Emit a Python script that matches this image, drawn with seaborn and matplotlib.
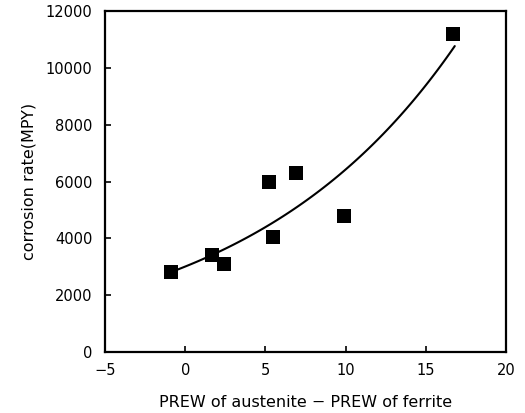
import numpy as np
import pandas as pd
import seaborn as sns
import matplotlib.pyplot as plt

sns.set_theme(style="white")
plt.rcParams["font.family"] = ["DejaVu Sans"]
plt.rcParams["text.color"] = "black"
plt.rcParams["axes.labelcolor"] = "black"
plt.rcParams["xtick.color"] = "black"
plt.rcParams["ytick.color"] = "black"

# datos
prew_diff = [-0.9, 1.7, 2.4, 5.2, 5.45, 6.9, 9.9, 16.7]
corr_rate = [2800, 3400, 3100, 6000, 4050, 6300, 4800, 11200]

df = pd.DataFrame({"x": prew_diff, "y": corr_rate})

# ajuste exponencial (log-lineal) de los puntos
b, ln_a = np.polyfit(df["x"], np.log(df["y"]), 1)
x_fit = np.linspace(min(prew_diff), 16.8, 100)
fit = pd.DataFrame({"x": x_fit, "y": np.exp(ln_a + b * x_fit)})

fig = plt.figure(figsize=(5.25, 4.13), dpi=100)
ax = fig.add_axes([0.2, 0.148, 0.764, 0.825])

sns.lineplot(data=fit, x="x", y="y", ax=ax, color="black", linewidth=1.5)
sns.scatterplot(data=df, x="x", y="y", ax=ax, marker="s", s=95,
                color="black", edgecolor="black", linewidth=0, zorder=3)

ax.set_xlim(-5, 20)
ax.set_ylim(0, 12000)
ax.set_xticks([-5, 0, 5, 10, 15, 20])
ax.set_yticks(range(0, 12001, 2000))
ax.set_xlabel("PREW of austenite \u2212 PREW of ferrite", fontsize=11.5, labelpad=12)
ax.set_ylabel("corrosion rate(MPY)", fontsize=11.5, labelpad=7)
ax.tick_params(direction="in", length=4, width=1.2, labelsize=10.5,
               bottom=True, left=True, top=False, right=False)
ax.tick_params(axis="y", pad=9)
ax.tick_params(axis="x", pad=8)
for s in ax.spines.values():
    s.set_linewidth(1.6)
    s.set_color("black")

fig.savefig("out.png", dpi=100)
